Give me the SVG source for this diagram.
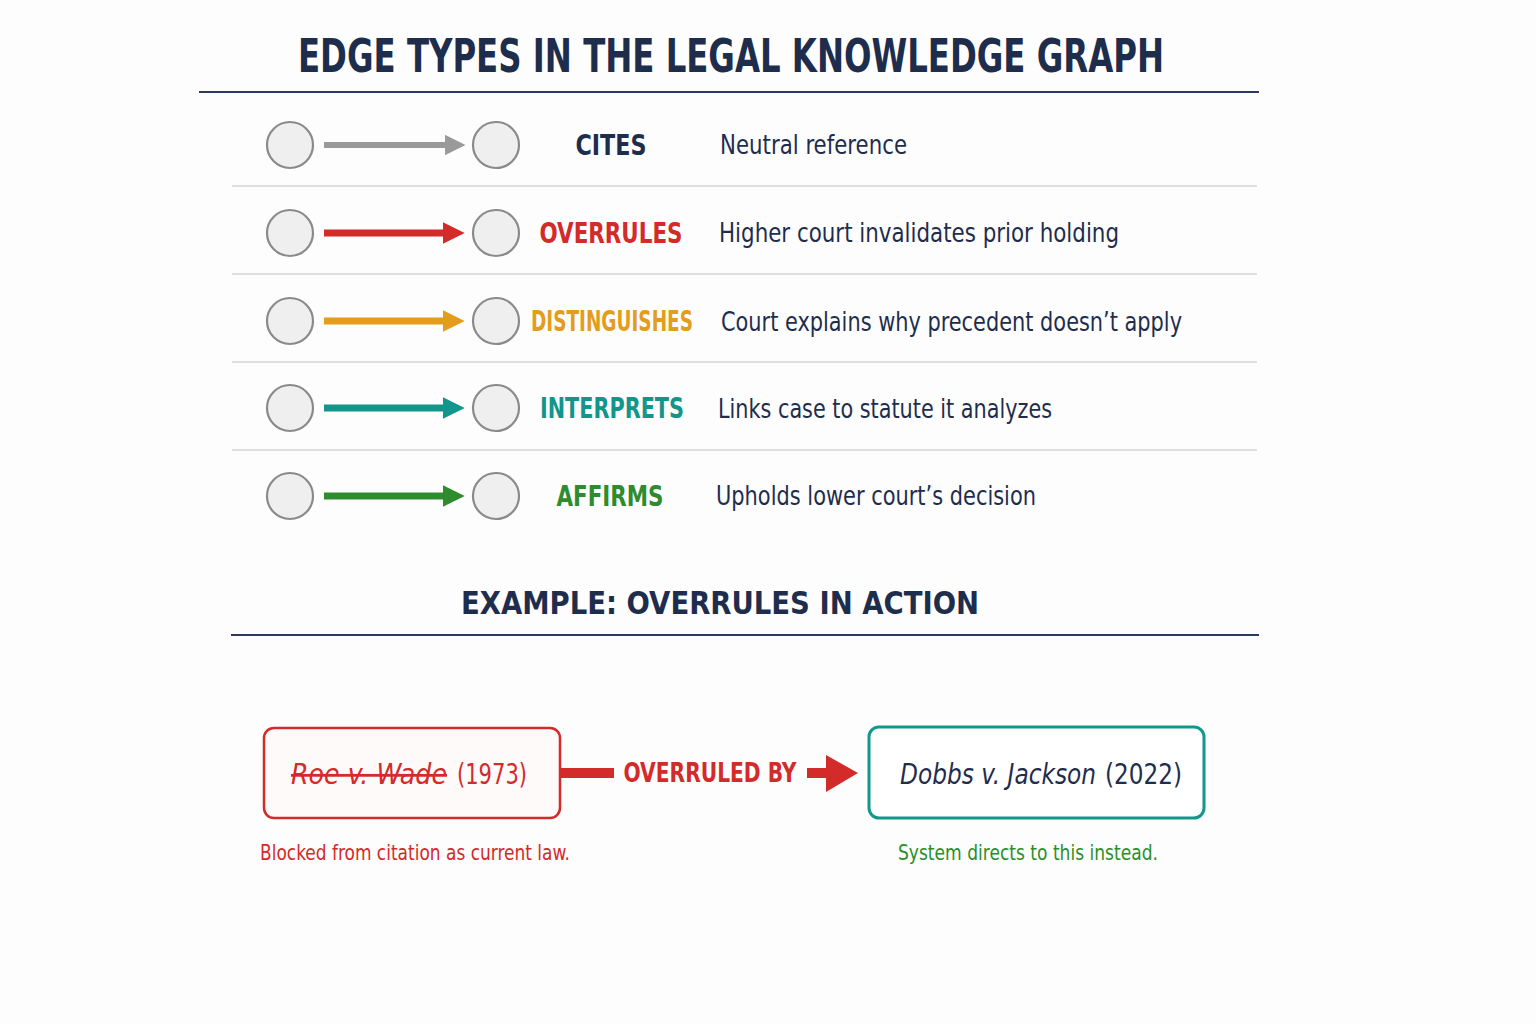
<svg xmlns="http://www.w3.org/2000/svg" width="1536" height="1024" viewBox="0 0 1536 1024">
<style>
text{font-family:"Liberation Sans Narrow","DejaVu Sans Condensed","Open Sans",sans-serif}
.title{font-weight:bold;fill:#1f2d4d}
.lbl{font-weight:bold;font-size:28px}
.desc{font-size:27px;fill:#1f2d4d}
.node{fill:#efefef;stroke:#8a8a8a;stroke-width:2.2}
.sep{stroke:#d4d4d4;stroke-width:1.5}
.rule{stroke:#2b3a5c;stroke-width:2}
</style>
<defs>
<marker id="hGrey" viewBox="0 0 10 10" refX="0" refY="5" markerWidth="3.4" markerHeight="3.4" markerUnits="strokeWidth" orient="auto"><path d="M0,0 L10,5 L0,10 Z" fill="#9a9a9a"/></marker>
<marker id="hRed" viewBox="0 0 10 10" refX="0" refY="5" markerWidth="3.1" markerHeight="3.1" markerUnits="strokeWidth" orient="auto"><path d="M0,0 L10,5 L0,10 Z" fill="#d32a2a"/></marker>
<marker id="hOrange" viewBox="0 0 10 10" refX="0" refY="5" markerWidth="3.1" markerHeight="3.1" markerUnits="strokeWidth" orient="auto"><path d="M0,0 L10,5 L0,10 Z" fill="#e49c1c"/></marker>
<marker id="hTeal" viewBox="0 0 10 10" refX="0" refY="5" markerWidth="3.1" markerHeight="3.1" markerUnits="strokeWidth" orient="auto"><path d="M0,0 L10,5 L0,10 Z" fill="#12958a"/></marker>
<marker id="hGreen" viewBox="0 0 10 10" refX="0" refY="5" markerWidth="3.1" markerHeight="3.1" markerUnits="strokeWidth" orient="auto"><path d="M0,0 L10,5 L0,10 Z" fill="#2e8b2e"/></marker>
</defs>
<rect width="1536" height="1024" fill="#fdfdfd"/>

<text class="title" x="731" y="72" font-size="46" text-anchor="middle" textLength="866" lengthAdjust="spacingAndGlyphs">EDGE TYPES IN THE LEGAL KNOWLEDGE GRAPH</text>
<line class="rule" x1="199" y1="92" x2="1259" y2="92"/>

<g id="separators">
<line class="sep" x1="232" y1="186" x2="1257" y2="186"/>
<line class="sep" x1="232" y1="274" x2="1257" y2="274"/>
<line class="sep" x1="232" y1="362" x2="1257" y2="362"/>
<line class="sep" x1="232" y1="450" x2="1257" y2="450"/>
</g>

<g id="row-cites">
<circle class="node" cx="290" cy="145" r="23"/>
<circle class="node" cx="496" cy="145" r="23"/>
<text class="lbl" x="611" y="155" fill="#1f2d4d" text-anchor="middle" textLength="71" lengthAdjust="spacingAndGlyphs">CITES</text>
<text class="desc" x="720" y="154" textLength="187" lengthAdjust="spacingAndGlyphs">Neutral reference</text>
</g>
<g id="row-overrules">
<circle class="node" cx="290" cy="233" r="23"/>
<circle class="node" cx="496" cy="233" r="23"/>
<text class="lbl" x="611" y="243" fill="#d32a2a" text-anchor="middle" textLength="143" lengthAdjust="spacingAndGlyphs">OVERRULES</text>
<text class="desc" x="719" y="242" textLength="400" lengthAdjust="spacingAndGlyphs">Higher court invalidates prior holding</text>
</g>
<g id="row-distinguishes">
<circle class="node" cx="290" cy="321" r="23"/>
<circle class="node" cx="496" cy="321" r="23"/>
<text class="lbl" x="612" y="331" fill="#e49c1c" text-anchor="middle" textLength="162" lengthAdjust="spacingAndGlyphs">DISTINGUISHES</text>
<text class="desc" x="721" y="331" textLength="461" lengthAdjust="spacingAndGlyphs">Court explains why precedent doesn’t apply</text>
</g>
<g id="row-interprets">
<circle class="node" cx="290" cy="408" r="23"/>
<circle class="node" cx="496" cy="408" r="23"/>
<text class="lbl" x="612" y="418" fill="#12958a" text-anchor="middle" textLength="144" lengthAdjust="spacingAndGlyphs">INTERPRETS</text>
<text class="desc" x="718" y="418" textLength="334" lengthAdjust="spacingAndGlyphs">Links case to statute it analyzes</text>
</g>
<g id="row-affirms">
<circle class="node" cx="290" cy="496" r="23"/>
<circle class="node" cx="496" cy="496" r="23"/>
<text class="lbl" x="610" y="506" fill="#2e8b2e" text-anchor="middle" textLength="107" lengthAdjust="spacingAndGlyphs">AFFIRMS</text>
<text class="desc" x="716" y="505" textLength="320" lengthAdjust="spacingAndGlyphs">Upholds lower court’s decision</text>
</g>

<g id="connectors">
<line x1="324" y1="145" x2="445" y2="145" stroke="#9a9a9a" stroke-width="6" marker-end="url(#hGrey)"/>
<line x1="324" y1="233" x2="443" y2="233" stroke="#d32a2a" stroke-width="7" marker-end="url(#hRed)"/>
<line x1="324" y1="321" x2="443" y2="321" stroke="#e49c1c" stroke-width="7" marker-end="url(#hOrange)"/>
<line x1="324" y1="408" x2="443" y2="408" stroke="#12958a" stroke-width="7" marker-end="url(#hTeal)"/>
<line x1="324" y1="496" x2="443" y2="496" stroke="#2e8b2e" stroke-width="7" marker-end="url(#hGreen)"/>
<rect x="560" y="768" width="54" height="10" fill="#d32a2a"/>
<text x="710" y="782" font-size="27" font-weight="bold" fill="#d32a2a" text-anchor="middle" textLength="173" lengthAdjust="spacingAndGlyphs">OVERRULED BY</text>
<rect x="807" y="768" width="22" height="10" fill="#d32a2a"/>
<path d="M826,755 L858,773 L826,792 Z" fill="#d32a2a"/>
</g>

<text class="title" x="720" y="614" font-size="32" text-anchor="middle" textLength="518" lengthAdjust="spacingAndGlyphs">EXAMPLE: OVERRULES IN ACTION</text>
<line class="rule" x1="231" y1="635" x2="1259" y2="635"/>

<g id="node-roe">
<rect x="264" y="728" width="296" height="90" rx="10" fill="#fffafa" stroke="#d32a2a" stroke-width="2.5"/>
<text x="291" y="784" font-size="28" fill="#d32a2a" font-style="italic" text-decoration="line-through" textLength="156" lengthAdjust="spacingAndGlyphs">Roe v. Wade</text>
<text x="457" y="784" font-size="28" fill="#d32a2a" textLength="70" lengthAdjust="spacingAndGlyphs">(1973)</text>
<text x="260" y="860" font-size="21" fill="#d32a2a" textLength="310" lengthAdjust="spacingAndGlyphs">Blocked from citation as current law.</text>
</g>
<g id="node-dobbs">
<rect x="869" y="727" width="335" height="91" rx="10" fill="#ffffff" stroke="#13968c" stroke-width="3"/>
<text x="900" y="784" font-size="28" fill="#1f2d4d" font-style="italic" textLength="196" lengthAdjust="spacingAndGlyphs">Dobbs v. Jackson</text>
<text x="1105" y="784" font-size="28" fill="#1f2d4d" textLength="77" lengthAdjust="spacingAndGlyphs">(2022)</text>
<text x="898" y="860" font-size="21" fill="#2a8f2a" textLength="260" lengthAdjust="spacingAndGlyphs">System directs to this instead.</text>
</g>
</svg>
